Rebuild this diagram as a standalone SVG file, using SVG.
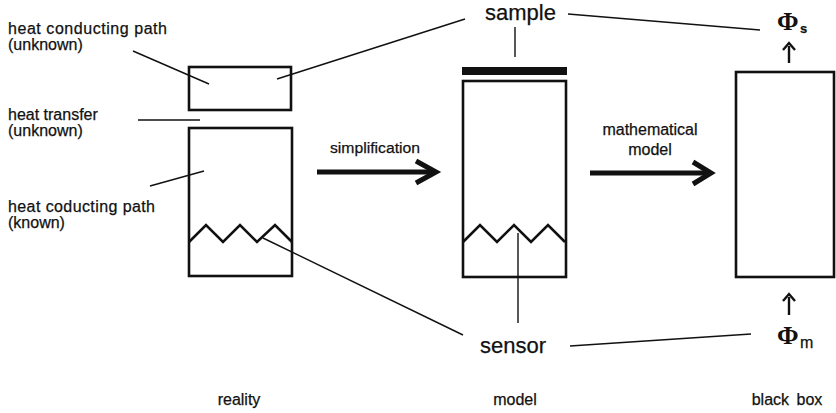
<svg xmlns="http://www.w3.org/2000/svg" width="836" height="413" viewBox="0 0 836 413">
<defs>
<style>
.box{fill:none;stroke:#111;stroke-width:2.6}
.zig{fill:none;stroke:#111;stroke-width:2.6;stroke-linejoin:miter}
.lead{fill:none;stroke:#111;stroke-width:1.4}
.big{fill:none;stroke:#111;stroke-width:5;stroke-linecap:butt}
.chev{fill:none;stroke:#111;stroke-width:5;stroke-linejoin:miter}
.up{fill:none;stroke:#111;stroke-width:2.4}
.t{font-family:"Liberation Sans",Arial,sans-serif;fill:#111;stroke:#111;stroke-width:0.25}
.s16{font-size:16px}
.s22{font-size:22px}
.phi{font-family:"Liberation Serif","Times New Roman",serif;font-weight:bold;font-size:26px;fill:#111}
</style>
</defs>

<g id="labels-left">
<text class="t s16" x="8" y="34" textLength="159" lengthAdjust="spacing">heat conducting path</text>
<text class="t s16" x="8" y="50">(unknown)</text>
<text class="t s16" x="8" y="120">heat transfer</text>
<text class="t s16" x="8" y="136">(unknown)</text>
<text class="t s16" x="8" y="212" textLength="147" lengthAdjust="spacing">heat coducting path</text>
<text class="t s16" x="8" y="228">(known)</text>
</g>

<g id="reality">
<rect class="box" x="189" y="67" width="102" height="43"/>
<rect class="box" x="189" y="128" width="103" height="148"/>
<polyline class="zig" points="189,242 206,225 223,242 240,225 257,242 275,225 292,242"/>
</g>

<g id="model">
<rect x="462" y="67" width="105" height="8" fill="#111"/>
<rect class="box" x="463" y="81" width="103" height="196"/>
<polyline class="zig" points="463,242 480,225 497,242 514,225 531,242 548,225 565,242"/>
</g>

<g id="blackbox">
<rect class="box" x="736" y="72" width="98" height="205"/>
</g>

<g id="sample-label">
<text class="t s22" x="485" y="20">sample</text>
</g>
<g id="sensor-label">
<text class="t s22" x="480" y="353">sensor</text>
</g>

<g id="phi-s">
<text class="phi" x="777" y="30">Φ</text>
<text class="t" x="800" y="33" font-size="13" font-weight="bold">s</text>
</g>
<g id="phi-m">
<text class="phi" x="777" y="344">Φ</text>
<text class="t" x="800" y="348" font-size="16">m</text>
</g>

<g id="connectors">
<line class="lead" x1="133" y1="51" x2="209" y2="84"/>
<line class="lead" x1="138" y1="120" x2="200" y2="120"/>
<line class="lead" x1="150" y1="186" x2="204" y2="171"/>
<line class="lead" x1="277" y1="79" x2="465" y2="19"/>
<line class="lead" x1="515" y1="27" x2="515" y2="57"/>
<line class="lead" x1="568" y1="14" x2="760" y2="30"/>
<line class="lead" x1="263" y1="238" x2="463" y2="335"/>
<line class="lead" x1="518" y1="233" x2="518" y2="323"/>
<line class="lead" x1="570" y1="346" x2="751" y2="334"/>
<line class="big" x1="317" y1="172" x2="435" y2="172"/>
<polyline class="chev" points="416,161 436,172 416,183"/>
<line class="big" x1="590" y1="173" x2="709" y2="173"/>
<polyline class="chev" points="693,162 711,173 693,184"/>
<line class="up" x1="789" y1="46" x2="789" y2="63"/>
<polyline class="up" points="783,50 789,43 795,50"/>
<line class="up" x1="789" y1="297" x2="789" y2="315"/>
<polyline class="up" points="783,301 789,294 795,301"/>
</g>

<g id="arrow-labels">
<text class="t" font-size="15.5" x="330" y="153" textLength="90" lengthAdjust="spacingAndGlyphs">simplification</text>
<text class="t s16" x="650" y="135" text-anchor="middle">mathematical</text>
<text class="t s16" x="650" y="155" text-anchor="middle">model</text>
</g>

<g id="bottom-labels">
<text class="t s16" x="239" y="405" text-anchor="middle">reality</text>
<text class="t s16" x="515" y="405" text-anchor="middle">model</text>
<text class="t s16" x="787" y="405" text-anchor="middle" word-spacing="3">black box</text>
</g>
</svg>
